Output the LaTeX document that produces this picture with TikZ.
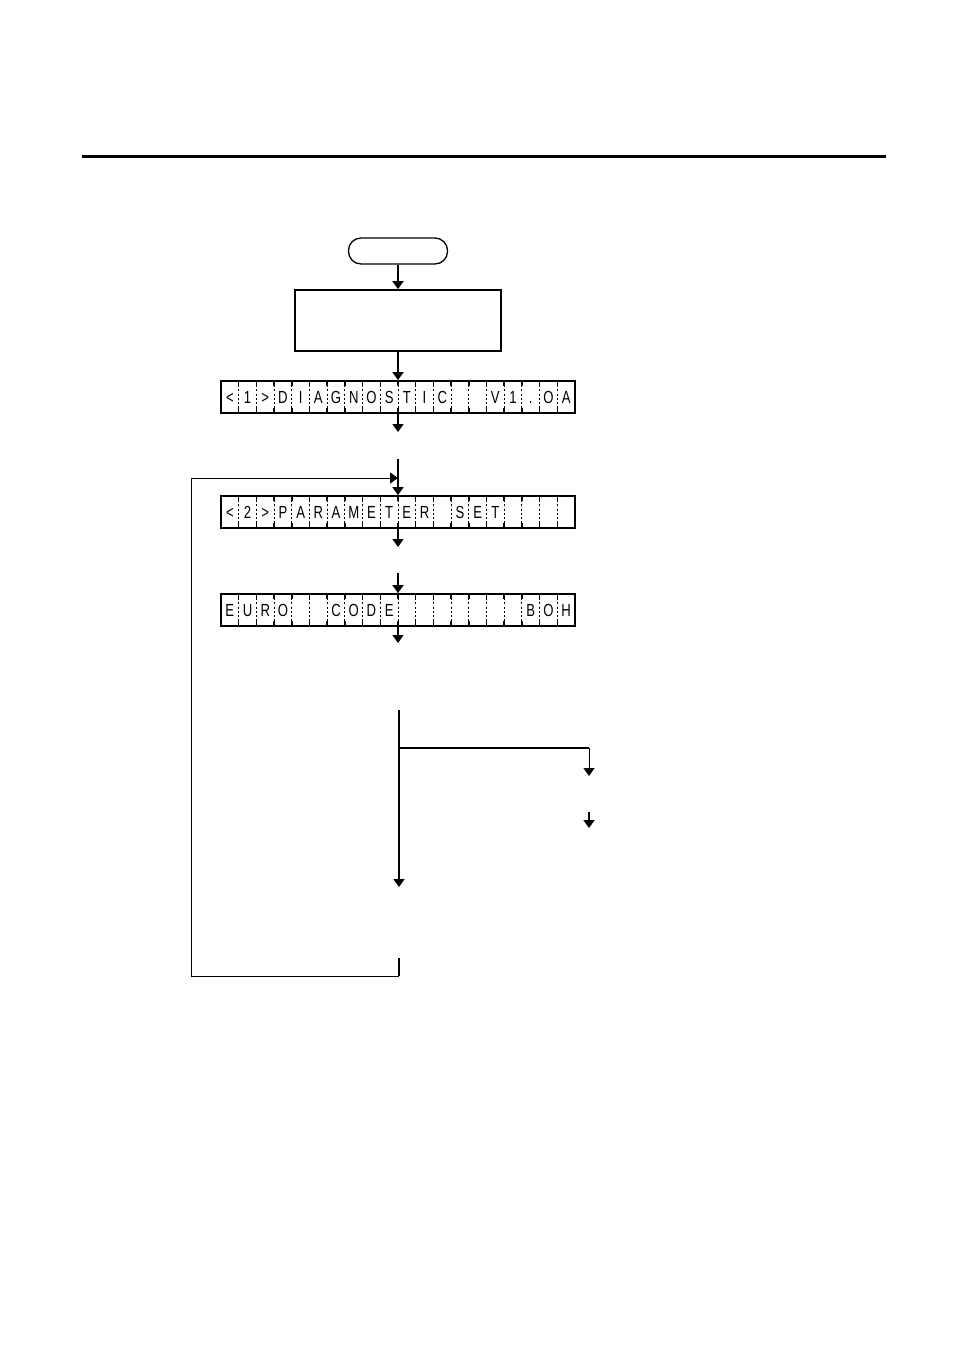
\documentclass[tikz,border=0pt]{standalone}
\usepackage{fontspec}
\newfontfamily\lcdfont[FakeStretch=0.75]{Liberation Sans}
\usetikzlibrary{arrows.meta}
\begin{document}
\begin{tikzpicture}[x=1pt,y=-1pt,
  tip/.style={-{Triangle[length=8pt,width=11pt]}},
  flow/.style={line width=1.7pt,tip},
  plain/.style={line width=1.7pt},
  thinline/.style={line width=1pt},
  lcdbox/.style={draw,line width=1.8pt,minimum width=354pt,minimum height=32pt,inner sep=0pt},
  lcdchar/.style={font=\lcdfont\fontsize{17.5}{17.5}\selectfont,inner sep=0pt,anchor=base},
  sep/.style={line width=1pt,dash pattern=on 2pt off 2.2pt},
  tick/.style={line width=1.5pt}]
\useasboundingbox (0,0) rectangle (954,1351);
% top rule
\coordinate (r1) at (82,157);
\coordinate (r2) at (886,157);
\draw[line width=3pt] (r1) -- (r2);
% start and process
\node[draw,line width=1.3pt,rounded corners=12.5pt,minimum width=99pt,minimum height=26pt,inner sep=0pt] (start) at (398,251) {};
\node[draw,line width=1.7pt,minimum width=206pt,minimum height=61pt,inner sep=0pt] (proc) at (398,320.5) {};
% LCD rows
\node[lcdbox] (lcd1) at (398,397) {};
\node[lcdbox] (lcd2) at (398,512) {};
\node[lcdbox] (lcd3) at (398,610) {};
\foreach \n/\y in {lcd1/397,lcd2/512,lcd3/610}{
  \foreach \i in {1,...,19}{
    \draw[sep] (221+\i*17.7,\y-16) -- (221+\i*17.7,\y+16);
    \draw[tick] (221+\i*17.7,\y-16) -- (221+\i*17.7,\y-11);
    \draw[tick] (221+\i*17.7,\y+16) -- (221+\i*17.7,\y+11);
  }
}
\foreach \c [count=\i] in {<,1,>,D,I,A,G,N,O,S,T,I,C,{},{},V,1,.,O,A}
  \node[lcdchar] (a\i) at (221+\i*17.7-8.85,397+6.3) {\c};
\foreach \c [count=\i] in {<,2,>,P,A,R,A,M,E,T,E,R,{},S,E,T,{},{},{},{}}
  \node[lcdchar] (b\i) at (221+\i*17.7-8.85,512+6.3) {\c};
\foreach \c [count=\i] in {E,U,R,O,{},{},C,O,D,E,{},{},{},{},{},{},{},B,O,H}
  \node[lcdchar] (c\i) at (221+\i*17.7-8.85,610+6.3) {\c};
% connectors
\draw[flow] (start.south) -- (proc.north);
\draw[flow] (proc.south) -- (lcd1.north);
\coordinate (e1) at (398,432);
\draw[flow] (lcd1.south) -- (e1);
\coordinate (s2) at (398,459);
\draw[flow] (s2) -- (lcd2.north);
\coordinate (e2) at (398,547);
\draw[flow] (lcd2.south) -- (e2);
\coordinate (s3) at (398,573);
\draw[flow] (s3) -- (lcd3.north);
\coordinate (e3) at (398,643);
\draw[flow] (lcd3.south) -- (e3);
% branch
\coordinate (v0) at (399,710);
\coordinate (v1) at (399,887);
\coordinate (br) at (399,748);
\coordinate (bc) at (589,748);
\coordinate (be) at (589,776);
\draw[flow] (v0) -- (v1);
\draw[plain] (br) -- (bc);
\draw[thinline,tip] (bc) -- (be);
\coordinate (k0) at (589,812);
\coordinate (k1) at (589,828);
\draw[flow] (k0) -- (k1);
% loop back
\coordinate (l0) at (399,958);
\coordinate (l1) at (399,976);
\coordinate (l2) at (191,976);
\coordinate (l3) at (191,478);
\coordinate (l4) at (398,478);
\draw[plain] (l0) -- (l1);
\draw[thinline,tip] (l1) -- (l2) -- (l3) -- (l4);
\end{tikzpicture}
\end{document}
